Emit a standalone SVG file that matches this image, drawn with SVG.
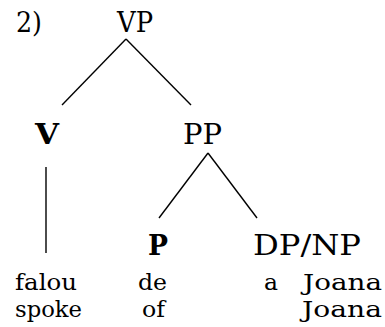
<svg xmlns="http://www.w3.org/2000/svg" width="385" height="327" viewBox="0 0 385 327">
<style>
text{font-family:"DejaVu Serif","Liberation Serif",serif;fill:#000}
.lab{font-size:27px}
.b{font-weight:bold}
.w{font-size:23px}
line{stroke:#000;stroke-width:1.4;stroke-linecap:butt}
</style>
<rect width="385" height="327" fill="#fff"/>
<g id="number"><text class="lab" x="16" y="32" textLength="26" lengthAdjust="spacingAndGlyphs">2)</text></g>
<g id="VP"><text class="lab" x="117" y="32" textLength="36" lengthAdjust="spacingAndGlyphs">VP</text></g>
<g id="V"><text class="lab b" x="35" y="144" textLength="24" lengthAdjust="spacingAndGlyphs">V</text></g>
<g id="PP"><text class="lab" x="183" y="144" textLength="39" lengthAdjust="spacingAndGlyphs">PP</text></g>
<g id="P"><text class="lab b" x="148" y="255" textLength="20" lengthAdjust="spacingAndGlyphs">P</text></g>
<g id="DPNP"><text class="lab" x="253" y="255" textLength="108" lengthAdjust="spacingAndGlyphs">DP/NP</text></g>
<g id="falou"><text class="w" x="15" y="290" textLength="62" lengthAdjust="spacingAndGlyphs">falou</text><text class="w" x="15" y="317" textLength="67" lengthAdjust="spacingAndGlyphs">spoke</text></g>
<g id="de"><text class="w" x="138" y="290" textLength="29" lengthAdjust="spacingAndGlyphs">de</text><text class="w" x="142" y="317" textLength="23" lengthAdjust="spacingAndGlyphs">of</text></g>
<g id="aJoana"><text class="w" x="264" y="290" textLength="14" lengthAdjust="spacingAndGlyphs">a</text><text class="w" x="303" y="290" textLength="79" lengthAdjust="spacingAndGlyphs">Joana</text><text class="w" x="302" y="317" textLength="80" lengthAdjust="spacingAndGlyphs">Joana</text></g>
<g id="connectors">
<line x1="126" y1="39" x2="62" y2="105"/>
<line x1="126" y1="39" x2="191" y2="105"/>
<line x1="46" y1="167" x2="46" y2="253"/>
<line x1="208" y1="153" x2="159" y2="218"/>
<line x1="208" y1="153" x2="257" y2="218"/>
</g>
</svg>
